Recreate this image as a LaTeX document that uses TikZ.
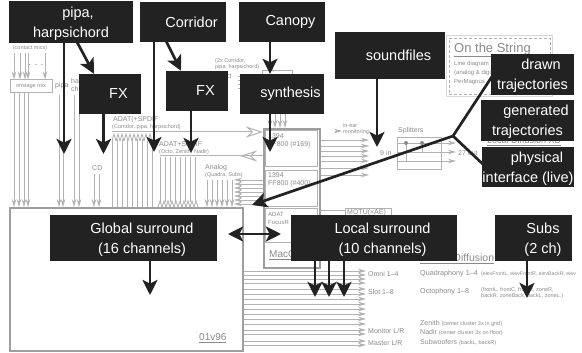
\documentclass[tikz,border=0pt]{standalone}
\usepackage{xcolor}
\usepackage{fontspec}
\setmainfont{Liberation Sans}
\usetikzlibrary{arrows.meta}

\definecolor{boxblack}{HTML}{222222}
\definecolor{wiregray}{HTML}{B2B2B2}
\definecolor{labelgray}{HTML}{8A8A8A}

\tikzset{
  blackbox/.style={fill=boxblack, text=white, align=center, inner sep=0pt, font=\fontsize{14.5}{20}\selectfont},
  blackarrow/.style={draw=boxblack, line width=2.7pt, -{Stealth[length=15pt,width=15pt,inset=3.5pt]}},
  blackline/.style={draw=boxblack, line width=2.7pt},
  wire/.style={draw=wiregray, line width=0.8pt},
  wirearrow/.style={wire, -{Stealth[length=8pt,width=4.5pt]}},
  openarrow/.style={wire, line width=1pt, -{Stealth[open,length=17pt,width=11pt]}},
  graybox/.style={draw=wiregray, line width=1pt, inner sep=0pt},
  tinylabel/.style={text=labelgray, inner sep=0pt, font=\fontsize{5.5}{6.5}\selectfont},
  smalllabel/.style={text=labelgray, inner sep=0pt, anchor=west, font=\fontsize{7}{8}\selectfont},
  biglabel/.style={text=labelgray, inner sep=0pt, anchor=west, font=\fontsize{10}{12}\selectfont},
}
\newcommand{\boxpad}[1][17pt]{\hspace*{#1}}
\newcommand{\firstline}{\rule{0pt}{14pt}}

\begin{document}
\begin{tikzpicture}[x=1pt, y=-1pt]
    \useasboundingbox (0,0) rectangle (582,353);

    % gray layer: mixer and interfaces
    \node[graybox, draw=black!38, line width=1.7pt, minimum width=233, minimum height=143] (mixer) at (126.5,279.5) {};
    \node[biglabel] (mixername) at (199,338) {\underline{01v96}};
    \node[graybox, minimum width=42, minimum height=13] (onstage) at (31,86.5) {};
    \node[tinylabel] (onstagename) at (onstage) {onstage mix};
    \node[graybox, draw=black!38, line width=1.6pt, minimum width=56, minimum height=139, anchor=north west] (mac) at (263,128) {};
    \node[graybox, minimum width=52, minimum height=36, anchor=north west] (ffa) at (265,130) {};
    \node[graybox, minimum width=52, minimum height=36, anchor=north west] (ffb) at (265,170) {};
    \node[graybox, minimum width=52, minimum height=34, anchor=north west] (focus) at (265,208) {};
    \node[biglabel] (macname) at (269,255) {\underline{MacO}};
    \node[smalllabel, align=left] (ffalabel) at (268,141) {1394\\FF800 (\#169)};
    \node[smalllabel, align=left] (ffblabel) at (268,180) {1394\\FF800 (\#400)};
    \node[smalllabel, font=\fontsize{6}{8}\selectfont, align=left] (focuslabel) at (268,218) {ADAT\\FocusR};
    \node[graybox, minimum width=46, minimum height=14, anchor=north west] (motu) at (345,208) {};
    \node[smalllabel] (motulabel) at (347,213) {MOTU(×AE)};
    \node[graybox, minimum width=44, minimum height=32, anchor=north west] (split) at (397,137) {};
    \node[smalllabel] (splitlabel) at (398,131) {Splitters};
    \node[graybox, minimum width=30, minimum height=22, anchor=north west] (synthin) at (262,70) {};

    % title block
    \node[draw=black!15, minimum width=106, minimum height=61, anchor=north west] (titleouter) at (446,35) {};
    \node[draw=wiregray, densely dashed, minimum width=101, minimum height=56, anchor=north west] (titleinner) at (449,38) {};
    \node[text=labelgray, inner sep=0pt, anchor=west, font=\fontsize{13}{15}\selectfont] (titlename) at (454,50) {\underline{On the String}};
    \node[smalllabel, font=\fontsize{6}{9}\selectfont, align=left] (titletext) at (454,73) {Line diagram\\(analog \& digital)\\PerMagnus};

    % gray layer: labels
    \node[tinylabel] (micslabel) at (30,48) {(contact mics)};
    \node[text=labelgray, inner sep=0pt] (micdots) at (36,65) {.\,\,.\,\,.};
    \node[smalllabel] (pipalabel) at (55,86) {pipa};
    \node[smalllabel, align=left] (harplabel) at (71,85) {ha\\ch};
    \node[smalllabel] (cdlabel) at (92,168) {CD};
    \node[smalllabel] (adatalabel) at (113,120) {ADAT(+SPDIF};
    \node[tinylabel, anchor=west] (adataext) at (112,127) {(Corridor, pipa, harpsichord)};
    \node[smalllabel] (adatblabel) at (159,144) {ADAT+SPDIF};
    \node[tinylabel, anchor=west] (adatbext) at (159,152) {(Octo, Zenith, Nadir)};
    \node[smalllabel] (analoglabel) at (205,168) {Analog};
    \node[tinylabel, anchor=west] (analogext) at (205,175) {(Quadra, Subs)};
    \node[tinylabel, anchor=west, align=left] (twoxlabel) at (215,64) {(2x Corridor,\\pipa, harpsichord)};
    \node[smalllabel] (ctlabel) at (226,76) {ct};
    \node[tinylabel, anchor=west, align=left] (inearlabel) at (343,129) {in-ear\\monitoring};
    \node[smalllabel] (ninelabel) at (380,153) {9 in};
    \node[smalllabel] (outlabel) at (458,153) {27 out};
    \node[text=labelgray, inner sep=0pt, anchor=west, font=\fontsize{9}{11}\selectfont] (localname) at (487,141) {\underline{Local Diffusion XD}};
    \node[text=labelgray, inner sep=0pt, anchor=west, font=\fontsize{10.5}{12}\selectfont] (globalname) at (420,258.5) {\underline{Global Diffusion}};
    \node[smalllabel] (omni) at (368,274) {Omni 1--4};
    \node[smalllabel] (slot) at (368,292) {Slot 1--8};
    \node[smalllabel] (monitor) at (368,331) {Monitor L/R};
    \node[smalllabel] (master) at (368,343) {Master L/R};
    \node[smalllabel, font=\fontsize{7.2}{9}\selectfont] (quadra) at (420,274) {Quadraphony 1--4};
    \node[tinylabel, anchor=west, font=\fontsize{5.2}{6.5}\selectfont] (quadraext) at (481,274.5) {(elevFrontL, elevFrontR, elevBackR, elev};
    \node[smalllabel, font=\fontsize{7.2}{9}\selectfont] (octo) at (420,292) {Octophony 1--8};
    \node[tinylabel, anchor=west, align=left] (octoext) at (481,293) {(frontL, frontC, frontR, zoneR,\\backR, zoneBack, backL, zoneL.)};
    \node[smalllabel] (zenith) at (420,324) {Zenith {\fontsize{5.5}{6}\selectfont (center cluster 3x in grid)}};
    \node[smalllabel] (nadir) at (420,333) {Nadir {\fontsize{5.5}{6}\selectfont (center cluster 3x on floor)}};
    \node[smalllabel] (subwoofers) at (420,343) {Subwoofers {\fontsize{5.5}{6}\selectfont (backL, backR)}};

    % gray layer: wires
    \foreach \x in {14,20,25,28,45}
        \draw[wirearrow] (\x,53) -- (onstage.north -| \x,0);
    \foreach \x in {14,19,24,28}
        \draw[wirearrow] (onstage.south -| \x,0) -- (mixer.north -| \x,0);
    \foreach \x in {59,63,74,79}
        \draw[wirearrow] (\x,95) -- (mixer.north -| \x,0);
    \foreach \x in {94,99}
        \draw[wirearrow] (\x,174) -- (mixer.north -| \x,0);
    \foreach \x in {112,117,...,152}
        \draw[wire] (\x,139) -- (mixer.north -| \x,0);
    \foreach \x in {112,116,...,148}
        \draw[wire] (\x,141) -- (\x+2,134) -- (\x+4,141);
    \foreach \x in {160,165,...,198}
        \draw[wire] (\x,157) -- (\x,202);
    \foreach \x in {158,162,...,196}
        \draw[wire] (\x,207) -- (\x+2,201) -- (\x+4,207);
    \foreach \x in {207,212,...,232}
        \draw[wirearrow] (\x,180) -- (mixer.north -| \x,0);
    \foreach \y in {180,184,...,204}
        \draw[wirearrow] (mac.west |- 0,\y) -- (234,\y);
    \draw[openarrow] (112,132) -- (mac.west |- 0,132);
    \draw[wire, line width=1pt] (160,156) -- (mac.west |- 0,156);
    \draw[openarrow] (263,156) -- (240,156);
    \foreach \y in {140,146,151,156,161,168,175}
        \draw[wirearrow] (mac.east |- 0,\y) -- (369,\y);
    \draw[wirearrow] (335,131) -- (342,131);
    \draw[wire] (mac.east |- 0,210) -- (motu.west |- 0,210);
    \foreach \y in {143,152,161}
        \draw[wirearrow] (split.west |- 0,\y) -- (456,\y);
    \draw[wire] (397,143) -- (422,143) -- (422,152) -- (441,152);
    \draw[wire] (406,143) -- (406,161) -- (441,161);
    \fill[labelgray] (406,143) circle (2pt) (422,143) circle (2pt);
    \foreach \y in {76,80,84,88}
        \draw[wire] (238,\y) -- (244,\y);
    \foreach \x in {270,275,280,285}
        \draw[wirearrow] (\x,114) -- (mac.north -| \x,0);
    \draw[wirearrow] (266,63) -- (274,72);
    \foreach \y in {271,275,279,283,289,294,299,304,309,314,319,324,330,334,341,345}
        \draw[wirearrow] (mixer.east |- 0,\y) -- (366,\y);

    % black layer
    \node[blackbox, minimum width=124, minimum height=42] (pipa) at (71,22) {\firstline\boxpad[14pt]pipa,\\harpsichord};
    \node[blackbox, minimum width=86, minimum height=40] (corridor) at (183,22) {\boxpad Corridor};
    \node[blackbox, minimum width=86, minimum height=40] (canopy) at (282,22) {\boxpad Canopy};
    \node[blackbox, minimum width=62, minimum height=40] (fxpipa) at (110,94) {\boxpad FX};
    \node[blackbox, minimum width=62, minimum height=40] (fxcorridor) at (197,91) {\boxpad FX};
    \node[blackbox, minimum width=84, minimum height=40] (synthesis) at (282,94) {\boxpad synthesis};
    \node[blackbox, minimum width=110, minimum height=47] (soundfiles) at (390,55.5) {\boxpad soundfiles};
    \coordinate (hub) at (453,136);
    \coordinate (drawntip) at (495,72);
    \coordinate (physicaltip) at (487,168);
    \draw[blackline] (hub) -- (drawntip);
    \draw[blackline] (hub) -- (physicaltip);
    \node[blackbox, minimum width=83, minimum height=41] (drawn) at (532.5,74.5) {\firstline\boxpad drawn\\trajectories};
    \node[blackbox, minimum width=93, minimum height=41] (generated) at (527.5,120.5) {\firstline\boxpad generated\\trajectories};
    \node[blackbox, minimum width=92, minimum height=40] (physical) at (528,167) {\firstline\boxpad[18pt]physical\\interface (live)};
    \node[blackbox, minimum width=167, minimum height=46] (globalsur) at (133.5,238) {\firstline\boxpad Global surround\\\boxpad(16 channels)};
    \node[blackbox, minimum width=166, minimum height=46] (localsur) at (374,238) {\firstline\boxpad Local surround\\\boxpad(10 channels)};
    \node[blackbox, minimum width=77, minimum height=46] (subs) at (533.5,238) {\firstline\boxpad[19pt]Subs\\\boxpad[19pt](2 ch)};

    % black arrows
    \coordinate (pipaend) at (64,154);
    \coordinate (fxpipaend) at (103.5,154);
    \coordinate (corridorend) at (154,152);
    \coordinate (fxcorridorend) at (191,153);
    \coordinate (synthesisend) at (270,152);
    \coordinate (soundfilesend) at (377,147);
    \coordinate (macend) at (252,205);
    \coordinate (doubleleft) at (228,234);
    \coordinate (doubleright) at (281,234);
    \coordinate (globalend) at (150,295);
    \coordinate (subsend) at (527,298);
    \draw[blackarrow] (pipa.south -| pipaend) -- (pipaend);
    \draw[blackarrow] (77,42) -- (fxpipa.north -| 94,0);
    \draw[blackarrow] (fxpipa.south -| fxpipaend) -- (fxpipaend);
    \draw[blackarrow] (corridor.south -| corridorend) -- (corridorend);
    \draw[blackarrow] (164,37) -- (fxcorridor.north -| 181,0);
    \draw[blackarrow] (fxcorridor.south -| fxcorridorend) -- (fxcorridorend);
    \draw[blackarrow] (canopy.south -| synthesisend) -- (synthesis.north -| synthesisend);
    \draw[blackarrow] (synthesis.south -| synthesisend) -- (synthesisend);
    \draw[blackarrow] (soundfiles.south -| soundfilesend) -- (soundfilesend);
    \draw[blackarrow] (hub) -- (macend);
    \draw[blackarrow, {Stealth[length=15pt,width=15pt,inset=3.5pt]}-{Stealth[length=15pt,width=15pt,inset=3.5pt]}] (doubleleft) -- (doubleright);
    \draw[blackarrow] (globalsur.south -| globalend) -- (globalend);
    \foreach \x in {315,329,344}
        \draw[blackarrow] (localsur.south -| \x,0) -- (\x,297);
    \draw[blackarrow] (subs.south -| subsend) -- (subsend);
\end{tikzpicture}
\end{document}
